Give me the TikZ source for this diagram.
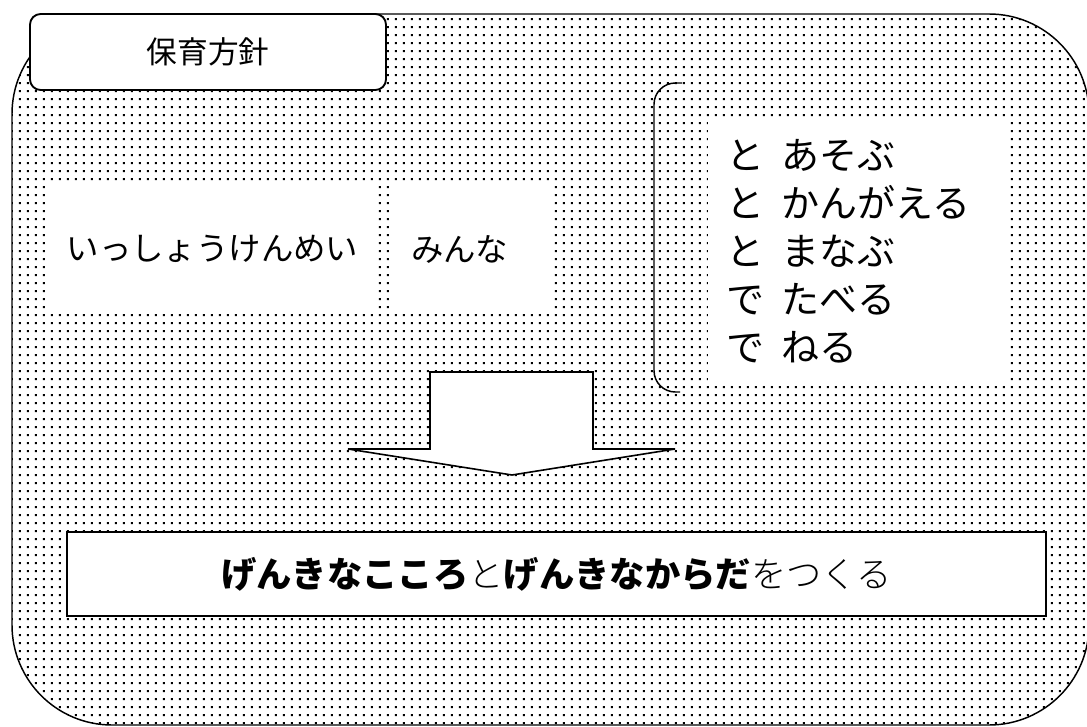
\documentclass[tikz,border=0pt]{standalone}
\usepackage{fontspec}
\newfontfamily\jpfont{Noto Sans CJK JP}
\newfontfamily\jpheavy{Noto Sans CJK JP Black}
\newfontfamily\jpthin{Noto Sans CJK JP Light}
\usetikzlibrary{
    calc,
    patterns.meta,
    %positioning,
    %shapes.arrows,
}

\tikzdeclarepattern{
    name=dotgrid,
    type=uncolored,
    bounding box={(0pt,0pt) and (6.25pt,6.25pt)},
    tile size={(6.25pt,6.25pt)},
    code={\fill (2.35pt,2.35pt) rectangle (3.9pt,3.9pt);},
}

\begin{document}
\begin{tikzpicture}[
        x=0.75pt, y=-0.75pt,
        board/.style={draw=black, line width=1.1pt, rounded corners=75pt, pattern=dotgrid, pattern color=black},
        tab/.style={rectangle, draw=black, fill=white, line width=1.4pt, rounded corners=8pt,
            minimum width=267pt, minimum height=57pt, font=\jpfont\fontsize{23pt}{27pt}\selectfont},
        blank/.style={rectangle, fill=white, inner sep=0pt, minimum height=96pt,
            font=\jpfont\fontsize{24.3pt}{29pt}\selectfont},
        listbox/.style={rectangle, fill=white, inner xsep=14pt, inner ysep=0pt, align=left,
            text width=195pt, minimum height=200pt,
            font=\jpfont\fontsize{28.5pt}{36pt}\selectfont},
        goal/.style={rectangle, draw=black, fill=white, line width=1.5pt,
            minimum width=734pt, minimum height=63pt, font=\fontsize{26.5pt}{30pt}\selectfont},
        bigarrow/.style={draw=black, fill=white, line width=1.2pt, line join=miter},
        ]
        \useasboundingbox (0,0) rectangle (1087,727);
        % background board
        \fill[white] (0,0) rectangle (1087,727);
        \draw[board] (12,14) rectangle (1089,725);
        % title tab
        \node[tab] (TAB) at (208,52) {保育方針};
        % text boxes
        \node[blank, minimum width=243.75pt] (EAGER) at (212.5,249) {いっしょうけんめい};
        \node[blank, minimum width=119.25pt, text width=92pt, inner xsep=13.5pt, align=left] (ALL) at (472.5,249) {みんな};
        \node[listbox] (ACTS) at (856.5,251) {と\hspace{.45em}あそぶ\\
            と\hspace{.45em}かんがえる\\
            と\hspace{.45em}まなぶ\\
            で\hspace{.45em}たべる\\
            で\hspace{.45em}ねる};
        \draw[line width=1.1pt, rounded corners=16pt] (682,83) -- (654,83) -- (654,392) -- (680,392);
        % arrow
        \draw[bigarrow] (430,372) -- (593,372) -- (593,449) -- (675,449) -- (512,475)
            -- (348,449) -- (430,449) -- cycle;
        % goal
        \node[goal] (GOAL) at (556.5,574) {{\jpheavy げんきなこころ}{\jpthin と}{\jpheavy げんきなからだ}{\jpthin をつくる}};
    \end{tikzpicture}
\end{document}
